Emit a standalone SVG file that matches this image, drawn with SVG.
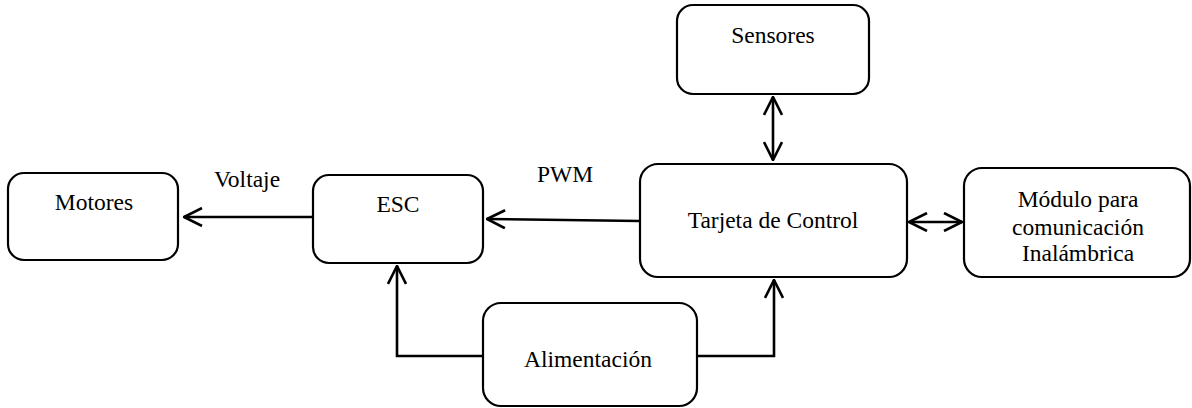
<svg xmlns="http://www.w3.org/2000/svg" width="1192" height="408" viewBox="0 0 1192 408">
<defs>
<style>
.box{fill:#fff;stroke:#000;stroke-width:2.2}
.t{font-family:"Liberation Serif","Times New Roman",serif;font-size:23.5px;fill:#000;text-anchor:middle}
.c{fill:none;stroke:#000;stroke-width:2.6}
</style>
<marker id="ah" viewBox="0 0 20 20" refX="19" refY="10" markerWidth="20" markerHeight="20" markerUnits="userSpaceOnUse" orient="auto-start-reverse">
<path d="M1,1 L19,10 L1,19" fill="none" stroke="#000" stroke-width="2.6"/>
</marker>
</defs>
<rect width="1192" height="408" fill="#fff"/>
<g id="connectors">
<line class="c" x1="313" y1="217" x2="184" y2="217" marker-end="url(#ah)"/>
<line class="c" x1="640" y1="221" x2="487" y2="219" marker-end="url(#ah)"/>
<line class="c" x1="773" y1="97" x2="773" y2="160" marker-start="url(#ah)" marker-end="url(#ah)"/>
<line class="c" x1="909" y1="222" x2="962" y2="222" marker-start="url(#ah)" marker-end="url(#ah)"/>
<polyline class="c" points="483,356 397,356 397,266" marker-end="url(#ah)"/>
<polyline class="c" points="697,356 774,356 774,280" marker-end="url(#ah)"/>
<text class="t" x="247" y="187">Voltaje</text>
<text class="t" x="565" y="182">PWM</text>
</g>
<g id="motores">
<rect class="box" x="8" y="173" width="170" height="87" rx="16"/>
<text class="t" x="94" y="210">Motores</text>
</g>
<g id="esc">
<rect class="box" x="313" y="175" width="170" height="88" rx="16"/>
<text class="t" x="398" y="212">ESC</text>
</g>
<g id="tarjeta">
<rect class="box" x="640" y="164" width="267" height="113" rx="18"/>
<text class="t" x="773" y="228">Tarjeta de Control</text>
</g>
<g id="sensores">
<rect class="box" x="677" y="5" width="192" height="89" rx="16"/>
<text class="t" x="773" y="43">Sensores</text>
</g>
<g id="modulo">
<rect class="box" x="964" y="168" width="226" height="109" rx="18"/>
<text class="t" x="1078" y="207">Módulo para</text>
<text class="t" x="1078" y="235">comunicación</text>
<text class="t" x="1078" y="261">Inalámbrica</text>
</g>
<g id="alimentacion">
<rect class="box" x="483" y="303" width="214" height="103" rx="18"/>
<text class="t" x="588" y="367">Alimentación</text>
</g>
</svg>
